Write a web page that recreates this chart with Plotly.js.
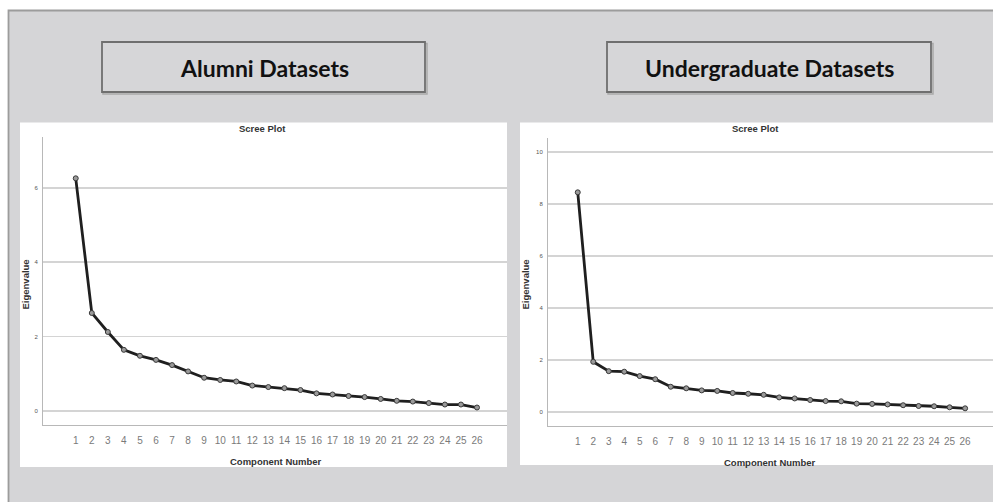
<!DOCTYPE html>
<html>
<head>
<meta charset="utf-8">
<script src="https://cdn.plot.ly/plotly-3.0.1.min.js"></script>
<style>
  html, body { margin: 0; padding: 0; background: #ffffff; }
  #chart { width: 993px; height: 502px; }
</style>
</head>
<body>
<div id="chart"></div>
<script>
// ---- data ----
var components = [1,2,3,4,5,6,7,8,9,10,11,12,13,14,15,16,17,18,19,20,21,22,23,24,25,26];
var alumniEigen = [6.25,2.63,2.12,1.64,1.48,1.37,1.23,1.06,0.89,0.83,0.79,0.68,0.64,0.61,0.56,0.47,0.44,0.40,0.37,0.32,0.27,0.25,0.21,0.17,0.17,0.09];
var undergradEigen = [8.44,1.92,1.56,1.54,1.37,1.25,0.96,0.90,0.82,0.80,0.72,0.69,0.65,0.55,0.51,0.45,0.41,0.40,0.31,0.30,0.28,0.25,0.22,0.21,0.17,0.13];
var alumniYTicks = [0,2,4,6];
var undergradYTicks = [0,2,4,6,8,10];
var panelTitles = ["Alumni Datasets", "Undergraduate Datasets"];
var plotTitle = "Scree Plot";
var xTitle = "Component Number";
var yTitle = "Eigenvalue";

// ---- pixel helpers (margins are zero, so paper = pixels) ----
var W = 993, H = 502;
function px(x) { return x / W; }
function py(y) { return 1 - y / H; }

var lineStyle = { color: '#1f1f1f', width: 2.8 };
var markerStyle = { symbol: 'circle', size: 5, color: '#9a9a9a', line: { color: '#3a3a3a', width: 1 } };

var traces = [
  { x: components, y: alumniEigen, xaxis: 'x', yaxis: 'y', type: 'scatter', mode: 'lines+markers',
    line: lineStyle, marker: markerStyle, hoverinfo: 'x+y', showlegend: false },
  { x: components, y: undergradEigen, xaxis: 'x2', yaxis: 'y2', type: 'scatter', mode: 'lines+markers',
    line: lineStyle, marker: markerStyle, hoverinfo: 'x+y', showlegend: false }
];

var tickFontX = { family: 'Liberation Sans Narrow, Liberation Sans, Arial, sans-serif', size: 10, color: '#7a7a7a' };
var tickFontY = { family: 'Liberation Sans, Arial, sans-serif', size: 6, color: '#555555' };
var boldSmall = { family: 'Liberation Sans Narrow, Liberation Sans, Arial, sans-serif', size: 9.5, color: '#333333', weight: 'bold' };

function xAxis(domain, range, anchor) {
  return {
    domain: domain, range: range, anchor: anchor,
    tickmode: 'array', tickvals: components, ticktext: components.map(String),
    showgrid: false, zeroline: false, showline: true, linecolor: '#b8b8b8', linewidth: 1,
    ticks: '', ticklabelstandoff: 6, tickfont: tickFontX, fixedrange: true
  };
}
function yAxis(domain, range, vals, anchor) {
  return {
    domain: domain, range: range, anchor: anchor,
    tickmode: 'array', tickvals: vals, ticktext: vals.map(String),
    showgrid: true, gridcolor: '#d4d4d4', gridwidth: 1.8,
    zeroline: false, showline: true, linecolor: '#b8b8b8', linewidth: 1,
    ticks: '', ticklabelstandoff: 3, tickfont: tickFontY, fixedrange: true
  };
}

var layout = {
  width: W, height: H,
  margin: { l: 0, r: 0, t: 0, b: 0, pad: 0 },
  paper_bgcolor: '#ffffff',
  plot_bgcolor: 'rgba(0,0,0,0)',
  showlegend: false,
  xaxis: xAxis([px(43), px(507)], [-1.04, 27.87], 'y'),
  yaxis: yAxis([py(425), py(137)], [-0.38, 7.36], alumniYTicks, 'x'),
  xaxis2: xAxis([px(548), 1], [-0.92, 27.8], 'y2'),
  yaxis2: yAxis([py(426), py(138)], [-0.55, 10.53], undergradYTicks, 'x2'),
  shapes: [
    // grey backdrop with top/left border
    { type: 'rect', xref: 'paper', yref: 'paper', layer: 'below',
      x0: px(8.5), x1: 1.02, y0: -0.02, y1: py(10.5),
      fillcolor: '#d5d5d7', line: { color: '#9c9c9c', width: 1.8 } },
    // white chart panels
    { type: 'rect', xref: 'paper', yref: 'paper', layer: 'below',
      x0: px(20), x1: px(507), y0: py(467), y1: py(122.5),
      fillcolor: '#ffffff', line: { width: 0 } },
    { type: 'rect', xref: 'paper', yref: 'paper', layer: 'below',
      x0: px(520), x1: 1.02, y0: py(465), y1: py(122.5),
      fillcolor: '#ffffff', line: { width: 0 } },
    // title boxes (shadow + box)
    { type: 'rect', xref: 'paper', yref: 'paper', layer: 'below',
      x0: px(103), x1: px(427), y0: py(94), y1: py(43.5),
      fillcolor: 'rgba(0,0,0,0)', line: { color: '#a9a9a9', width: 1.5 } },
    { type: 'rect', xref: 'paper', yref: 'paper', layer: 'below',
      x0: px(102), x1: px(425), y0: py(92), y1: py(42),
      fillcolor: '#d6d6d8', line: { color: '#6f6f6f', width: 1.8 } },
    { type: 'rect', xref: 'paper', yref: 'paper', layer: 'below',
      x0: px(608), x1: px(933), y0: py(94), y1: py(43.5),
      fillcolor: 'rgba(0,0,0,0)', line: { color: '#a9a9a9', width: 1.5 } },
    { type: 'rect', xref: 'paper', yref: 'paper', layer: 'below',
      x0: px(607), x1: px(931), y0: py(92), y1: py(42),
      fillcolor: '#d6d6d8', line: { color: '#6f6f6f', width: 1.8 } }
  ],
  annotations: [
    { text: panelTitles[0], xref: 'paper', yref: 'paper', x: px(264), y: py(67.5),
      xanchor: 'center', yanchor: 'middle', showarrow: false,
      font: { family: 'Lato, Liberation Sans, sans-serif', size: 23, color: '#111111', weight: 'bold' } },
    { text: panelTitles[1], xref: 'paper', yref: 'paper', x: px(769), y: py(67.5),
      xanchor: 'center', yanchor: 'middle', showarrow: false,
      font: { family: 'Lato, Liberation Sans, sans-serif', size: 23, color: '#111111', weight: 'bold' } },
    { text: plotTitle, xref: 'paper', yref: 'paper', x: px(262), y: py(128.5),
      xanchor: 'center', yanchor: 'middle', showarrow: false, font: boldSmall },
    { text: plotTitle, xref: 'paper', yref: 'paper', x: px(755), y: py(128.5),
      xanchor: 'center', yanchor: 'middle', showarrow: false, font: boldSmall },
    { text: xTitle, xref: 'paper', yref: 'paper', x: px(276), y: py(461),
      xanchor: 'center', yanchor: 'middle', showarrow: false, font: boldSmall },
    { text: xTitle, xref: 'paper', yref: 'paper', x: px(770), y: py(462),
      xanchor: 'center', yanchor: 'middle', showarrow: false, font: boldSmall },
    { text: yTitle, xref: 'paper', yref: 'paper', x: px(24.5), y: py(285), textangle: -90,
      xanchor: 'center', yanchor: 'middle', showarrow: false, font: boldSmall },
    { text: yTitle, xref: 'paper', yref: 'paper', x: px(524.5), y: py(285), textangle: -90,
      xanchor: 'center', yanchor: 'middle', showarrow: false, font: boldSmall }
  ]
};

Plotly.newPlot('chart', traces, layout, { staticPlot: true, displayModeBar: false });
</script>
</body>
</html>
